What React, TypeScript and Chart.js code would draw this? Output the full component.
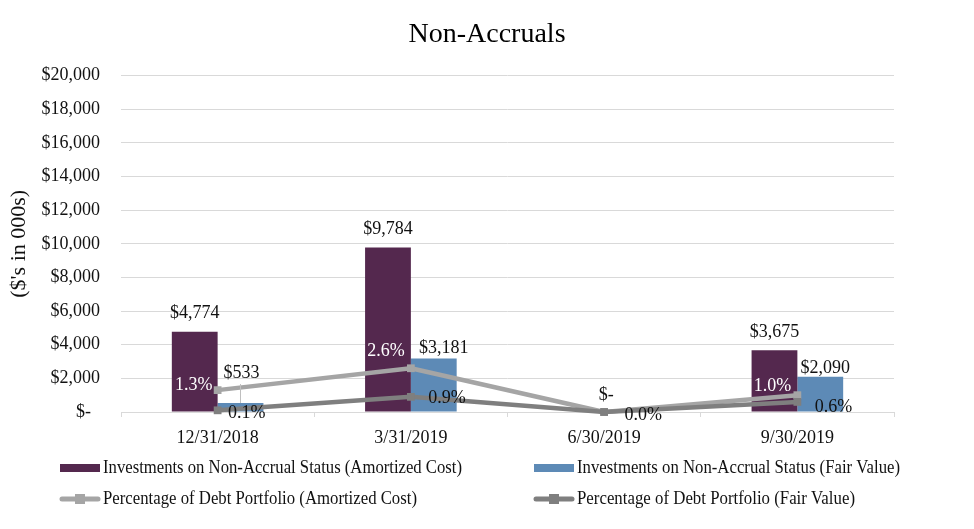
import React, { useEffect, useRef } from "react";
import { Chart, registerables } from "chart.js";

Chart.register(...registerables);

// ---------- data ----------
const categories = ["12/31/2018", "3/31/2019", "6/30/2019", "9/30/2019"];
const amortizedCost = [4774, 9784, 0, 3675];
const fairValue = [533, 3181, 0, 2090];
const pctAmortized = [1.3, 2.6, 0.0, 1.0];
const pctFair = [0.1, 0.9, 0.0, 0.6];
const yTickValues = [0, 2000, 4000, 6000, 8000, 10000, 12000, 14000, 16000, 18000, 20000];

const seriesNames = [
  "Investments on Non-Accrual Status (Amortized Cost)",
  "Investments on Non-Accrual Status (Fair Value)",
  "Percentage of Debt Portfolio (Amortized Cost)",
  "Percentage of Debt Portfolio (Fair Value)",
];

// ---------- styles ----------
const FONT = "'Liberation Serif', 'Times New Roman', serif";
const PURPLE = "#54284E";
const BLUE = "#5D8AB6";
const LIGHT_GRAY = "#A5A5A5";
const DARK_GRAY = "#7F7F7F";
const GRID = "#D9D9D9";
const TEXT = "#111111";

type Off = { dx: number; dy: number; leader?: boolean } | null;
const amortBarLabelPos: Off[] = [
  { dx: 0, dy: -18 },
  { dx: 0, dy: -18 },
  { dx: 25, dy: -17 },
  { dx: 0, dy: -18 },
];
const fairBarLabelPos: Off[] = [
  { dx: 1, dy: -30, leader: true },
  { dx: 10, dy: -10 },
  null,
  { dx: 5, dy: -9 },
];
const pctAmortLabelPos: Off[] = [
  { dx: -24, dy: -5 },
  { dx: -25, dy: -17 },
  null,
  { dx: -25, dy: -9 },
];
const pctFairLabelPos: Off[] = [
  { dx: 29, dy: 3 },
  { dx: 36, dy: 1 },
  { dx: 39, dy: 3 },
  { dx: 36, dy: 5 },
];

const fmtDollar = (v: number) => (v === 0 ? "$-" : "$" + v.toLocaleString("en-US"));
const fmtPct = (v: number) => v.toFixed(1) + "%";

const labelsPlugin = {
  id: "valueLabels",
  afterDatasetsDraw(chart: any) {
    const ctx = chart.ctx;
    ctx.save();
    ctx.font = `18px ${FONT}`;
    ctx.textAlign = "center";
    ctx.textBaseline = "middle";
    const draw = (dsIndex: number, pos: Off[], fmt: (v: number) => string, color: string) => {
      const meta = chart.getDatasetMeta(dsIndex);
      const data = chart.data.datasets[dsIndex].data as number[];
      meta.data.forEach((el: any, i: number) => {
        const p = pos[i];
        if (!p) return;
        const x = el.x + p.dx;
        const y = el.y + p.dy;
        if (p.leader) {
          ctx.strokeStyle = "#BFBFBF";
          ctx.lineWidth = 1;
          ctx.beginPath();
          ctx.moveTo(Math.round(x - 2) + 0.5, y + 11);
          ctx.lineTo(Math.round(x - 2) + 0.5, el.y);
          ctx.stroke();
        }
        ctx.fillStyle = color;
        ctx.fillText(fmt(data[i]), x, y);
      });
    };
    draw(0, amortBarLabelPos, fmtDollar, TEXT);
    draw(1, fairBarLabelPos, fmtDollar, TEXT);
    draw(2, pctAmortLabelPos, fmtPct, "#FFFFFF");
    draw(3, pctFairLabelPos, fmtPct, TEXT);
    ctx.restore();
  },
};

const legendLayout = {
  cols: [60, 534],
  rows: [468, 499],
  markerW: 40,
  textWidths: [359, 323, 314, 278],
};

const legendPlugin = {
  id: "customLegend",
  afterDraw(chart: any) {
    const ctx = chart.ctx;
    ctx.save();
    chart.data.datasets.forEach((ds: any, i: number) => {
      const x = legendLayout.cols[i % 2];
      const y = legendLayout.rows[Math.floor(i / 2)];
      const w = legendLayout.markerW;
      if (ds.type === "bar") {
        ctx.fillStyle = ds.backgroundColor;
        ctx.fillRect(x, y - 4, w, 8);
      } else {
        ctx.strokeStyle = ds.borderColor;
        ctx.lineWidth = 5;
        ctx.lineCap = "round";
        ctx.beginPath();
        ctx.moveTo(x + 2, y);
        ctx.lineTo(x + w - 2, y);
        ctx.stroke();
        ctx.fillStyle = ds.borderColor;
        ctx.fillRect(x + w / 2 - 5, y - 5, 10, 10);
      }
      ctx.fillStyle = TEXT;
      ctx.font = `18px ${FONT}`;
      ctx.textAlign = "left";
      ctx.textBaseline = "middle";
      ctx.fillText(ds.label, x + w + 3, y, legendLayout.textWidths[i]);
    });
    ctx.restore();
  },
};

const lineCommon = {
  type: "line",
  borderWidth: 4.5,
  pointStyle: "rect",
  pointRadius: 5.5,
  pointBorderWidth: 0,
  yAxisID: "y1",
  tension: 0,
  borderJoinStyle: "round",
  clip: false,
};

export default function App() {
  const ref = useRef<HTMLCanvasElement | null>(null);
  useEffect(() => {
    if (!ref.current) return;
    const chart = new Chart(ref.current, {
      type: "bar",
      data: {
        labels: categories,
        datasets: [
          {
            type: "bar",
            label: seriesNames[0],
            data: amortizedCost,
            backgroundColor: PURPLE,
            yAxisID: "y",
            order: 3,
            categoryPercentage: 0.474,
            barPercentage: 1,
          },
          {
            type: "bar",
            label: seriesNames[1],
            data: fairValue,
            backgroundColor: BLUE,
            yAxisID: "y",
            order: 3,
            categoryPercentage: 0.474,
            barPercentage: 1,
          },
          {
            ...lineCommon,
            label: seriesNames[2],
            data: pctAmortized,
            borderColor: LIGHT_GRAY,
            backgroundColor: LIGHT_GRAY,
            pointBackgroundColor: LIGHT_GRAY,
            pointBorderColor: LIGHT_GRAY,
            order: 2,
          } as any,
          {
            ...lineCommon,
            label: seriesNames[3],
            data: pctFair,
            borderColor: DARK_GRAY,
            backgroundColor: DARK_GRAY,
            pointBackgroundColor: DARK_GRAY,
            pointBorderColor: DARK_GRAY,
            order: 1,
          } as any,
        ],
      },
      options: {
        responsive: false,
        animation: false,
        layout: { padding: { top: 0, bottom: 74, left: 0, right: 0 } },
        plugins: {
          legend: { display: false },
          tooltip: { enabled: false },
          title: {
            display: true,
            text: "Non-Accruals",
            color: "#000000",
            font: { family: FONT, size: 28, weight: "normal" },
            padding: { top: 18, bottom: 24 },
          },
        },
        scales: {
          x: {
            offset: true,
            grid: {
              offset: true,
              drawOnChartArea: false,
              drawTicks: true,
              tickLength: 5,
              color: GRID,
            },
            border: { display: true, color: GRID },
            ticks: {
              color: TEXT,
              font: { family: FONT, size: 18 },
              padding: 10,
              maxRotation: 0,
            },
            afterFit: (s: any) => {
              s.height = 43;
            },
          },
          y: {
            position: "left",
            min: 0,
            max: 20000,
            afterBuildTicks: (s: any) => {
              s.ticks = yTickValues.map((v) => ({ value: v }));
            },
            grid: { color: GRID, drawTicks: false },
            border: { display: false },
            ticks: {
              color: TEXT,
              font: { family: FONT, size: 18 },
              padding: 21,
              callback: (v: any) => (Number(v) === 0 ? "$-  " : fmtDollar(Number(v))),
            },
            title: {
              display: true,
              text: "($'s in 000s)",
              color: TEXT,
              font: { family: FONT, size: 22 },
              padding: { top: 6, bottom: 0 },
            },
            afterFit: (s: any) => {
              s.width = 121;
            },
          },
          y1: {
            display: true,
            position: "right",
            min: 0,
            max: 20,
            grid: { drawOnChartArea: false, drawTicks: false, display: false },
            border: { display: false },
            ticks: { display: false },
            afterFit: (s: any) => {
              s.width = 80;
            },
          },
        },
      },
      plugins: [labelsPlugin, legendPlugin],
    });
    return () => chart.destroy();
  }, []);
  return (
    <canvas
      ref={ref}
      width={974}
      height={529}
      style={{ position: "fixed", left: 0, top: 0, display: "block", background: "#ffffff" }}
    />
  );
}
